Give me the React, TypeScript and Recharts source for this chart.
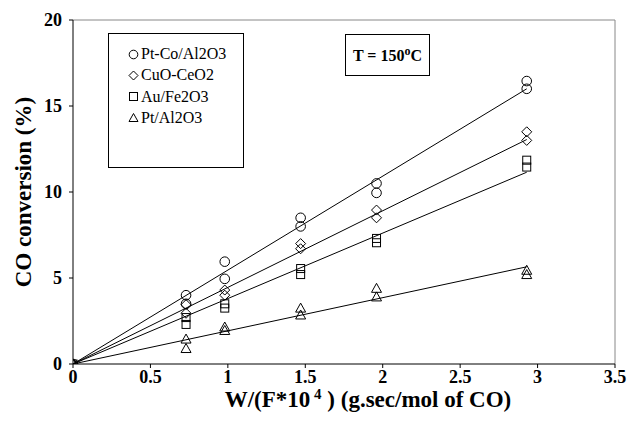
import React from 'react';
import { ComposedChart, Scatter, XAxis, YAxis, ReferenceLine } from 'recharts';

const xTicks = [0, 0.5, 1, 1.5, 2, 2.5, 3, 3.5];
const yTicks = [0, 5, 10, 15, 20];

const ptCo = [
  { x: 0, y: 0 }, { x: 0.73, y: 4.0 }, { x: 0.73, y: 3.5 }, { x: 0.98, y: 5.95 }, { x: 0.98, y: 4.95 },
  { x: 1.47, y: 8.5 }, { x: 1.47, y: 8.0 }, { x: 1.96, y: 10.5 }, { x: 1.96, y: 9.95 },
  { x: 2.93, y: 16.45 }, { x: 2.93, y: 16.0 },
];
const cuoCeo2 = [
  { x: 0, y: 0 }, { x: 0.73, y: 3.45 }, { x: 0.73, y: 2.95 }, { x: 0.98, y: 4.3 }, { x: 0.98, y: 4.0 },
  { x: 1.47, y: 7.0 }, { x: 1.47, y: 6.7 }, { x: 1.96, y: 8.95 }, { x: 1.96, y: 8.5 },
  { x: 2.93, y: 13.5 }, { x: 2.93, y: 13.0 },
];
const auFe2o3 = [
  { x: 0, y: 0 }, { x: 0.73, y: 2.7 }, { x: 0.73, y: 2.3 }, { x: 0.98, y: 3.5 }, { x: 0.98, y: 3.25 },
  { x: 1.47, y: 5.55 }, { x: 1.47, y: 5.2 }, { x: 1.96, y: 7.3 }, { x: 1.96, y: 7.05 },
  { x: 2.93, y: 11.85 }, { x: 2.93, y: 11.45 },
];
const ptAl2o3 = [
  { x: 0, y: 0 }, { x: 0.73, y: 1.45 }, { x: 0.73, y: 0.9 }, { x: 0.98, y: 2.15 }, { x: 0.98, y: 1.95 },
  { x: 1.47, y: 3.25 }, { x: 1.47, y: 2.85 }, { x: 1.96, y: 4.4 }, { x: 1.96, y: 3.9 },
  { x: 2.93, y: 5.45 }, { x: 2.93, y: 5.2 },
];

const fitPtCo = [{ x: 0, y: 0 }, { x: 2.93, y: 16.0 }];
const fitCuo = [{ x: 0, y: 0 }, { x: 2.93, y: 13.05 }];
const fitAu = [{ x: 0, y: 0 }, { x: 2.93, y: 11.15 }];
const fitPt = [{ x: 0, y: 0 }, { x: 2.93, y: 5.65 }];

const legendNames = ['Pt-Co/Al2O3', 'CuO-CeO2', 'Au/Fe2O3', 'Pt/Al2O3'];

const FONT = '"Liberation Serif", "Times New Roman", serif';

const CircleShape = (p: any) => <circle cx={p.cx} cy={p.cy} r={4.8} fill="none" stroke="#000" strokeWidth={1} />;
const DiamondShape = (p: any) => (
  <polygon points={`${p.cx},${p.cy - 5} ${p.cx + 5},${p.cy} ${p.cx},${p.cy + 5} ${p.cx - 5},${p.cy}`} fill="none" stroke="#000" strokeWidth={1} />
);
const SquareShape = (p: any) => <rect x={p.cx - 4} y={p.cy - 4} width={8} height={8} fill="none" stroke="#000" strokeWidth={1} />;
const TriangleShape = (p: any) => (
  <polygon points={`${p.cx},${p.cy - 5} ${p.cx + 5},${p.cy + 4} ${p.cx - 5},${p.cy + 4}`} fill="none" stroke="#000" strokeWidth={1} />
);
const NoShape = () => <g />;

const legendSymbols = [
  <svg width="11" height="11" key="a"><circle cx="5.5" cy="5.5" r="4.3" fill="none" stroke="#000" /></svg>,
  <svg width="11" height="11" key="b"><polygon points="5.5,1 10,5.5 5.5,10 1,5.5" fill="none" stroke="#000" /></svg>,
  <svg width="11" height="11" key="c"><rect x="1.5" y="1.5" width="8" height="8" fill="none" stroke="#000" /></svg>,
  <svg width="11" height="11" key="d"><polygon points="5.5,1.5 10,9.5 1,9.5" fill="none" stroke="#000" /></svg>,
];

export default function App() {
  return (
    <div style={{ position: 'absolute', left: 0, top: 0, width: 631, height: 421, background: '#fff' }}>
      <ComposedChart width={631} height={421} margin={{ top: 20, right: 16, bottom: 0, left: 0 }}>
        <XAxis
          type="number"
          dataKey="x"
          domain={[0, 3.5]}
          ticks={xTicks}
          allowDataOverflow
          height={57}
          stroke="#000"
          tickSize={4}
          tickMargin={2}
          tick={{ fill: '#000', fontFamily: FONT, fontWeight: 'bold', fontSize: 18 }}
          label={{
            content: () => (
              <text x={368} y={407} textAnchor="middle" fontFamily={FONT} fontWeight="bold" fontSize={23} fill="#000">
                W/(F*10<tspan dy={-8} fontSize={15}> 4</tspan><tspan dy={8}> ) (g.sec/mol of CO)</tspan>
              </text>
            ),
          }}
        />
        <YAxis
          type="number"
          dataKey="y"
          domain={[0, 20]}
          ticks={yTicks}
          allowDataOverflow
          width={73}
          stroke="#000"
          tickSize={4}
          tickMargin={7}
          tick={{ fill: '#000', fontFamily: FONT, fontWeight: 'bold', fontSize: 18 }}
          label={{
            content: () => (
              <text x={31} y={192} transform="rotate(-90 31 192)" textAnchor="middle" fontFamily={FONT} fontWeight="bold" fontSize={23} fill="#000">
                CO conversion (%)
              </text>
            ),
          }}
        />
        <ReferenceLine y={20} stroke="#888" />
        <ReferenceLine x={3.5} stroke="#888" />
        <Scatter data={fitPtCo} line={{ stroke: '#000', strokeWidth: 1 }} shape={NoShape} isAnimationActive={false} />
        <Scatter data={fitCuo} line={{ stroke: '#000', strokeWidth: 1 }} shape={NoShape} isAnimationActive={false} />
        <Scatter data={fitAu} line={{ stroke: '#000', strokeWidth: 1 }} shape={NoShape} isAnimationActive={false} />
        <Scatter data={fitPt} line={{ stroke: '#000', strokeWidth: 1 }} shape={NoShape} isAnimationActive={false} />
        <Scatter name={legendNames[0]} data={ptCo} shape={CircleShape} isAnimationActive={false} />
        <Scatter name={legendNames[1]} data={cuoCeo2} shape={DiamondShape} isAnimationActive={false} />
        <Scatter name={legendNames[2]} data={auFe2o3} shape={SquareShape} isAnimationActive={false} />
        <Scatter name={legendNames[3]} data={ptAl2o3} shape={TriangleShape} isAnimationActive={false} />
      </ComposedChart>
      <div
        style={{
          position: 'absolute', left: 108, top: 33, width: 136, height: 135, border: '1px solid #000',
          boxSizing: 'border-box', background: '#fff', fontFamily: FONT, fontSize: 16, color: '#000',
        }}
      >
        {legendNames.map((n, i) => (
          <div key={n} style={{ position: 'absolute', left: 19, top: 9 + i * 21.3, display: 'flex', alignItems: 'center', height: 22, whiteSpace: 'nowrap' }}>
            {legendSymbols[i]}
            <span style={{ marginLeft: 2 }}>{n}</span>
          </div>
        ))}
      </div>
      <div
        style={{
          position: 'absolute', left: 345, top: 34, width: 85, height: 42, border: '1px solid #000',
          boxSizing: 'border-box', background: '#fff', fontFamily: FONT, fontSize: 16, fontWeight: 'bold', color: '#000',
          display: 'flex', alignItems: 'center', justifyContent: 'center', whiteSpace: 'nowrap',
        }}
      >
        <span>T = 150<sup style={{ fontSize: 12 }}>o</sup>C</span>
      </div>
    </div>
  );
}
